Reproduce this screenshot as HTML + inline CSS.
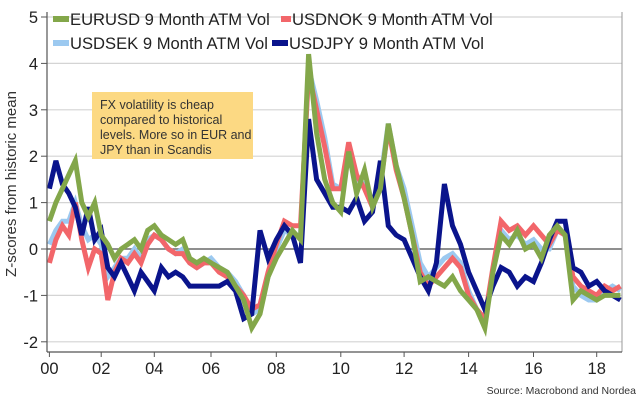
<!DOCTYPE html>
<html><head><meta charset="utf-8"><style>
html,body{margin:0;padding:0;background:#fff;}
svg{display:block;font-family:"Liberation Sans",sans-serif;}
</style></head><body>
<svg id="chart" width="640" height="403" viewBox="0 0 640 403">
<g id="grid"></g>
<g id="series"></g>
<g id="axes"></g>
<rect x="92" y="92" width="161" height="67" fill="#FCD983"/>
<text font-size="12.5" fill="#333">
<tspan x="100" y="109">FX volatility is cheap</tspan>
<tspan x="100" y="124">compared to historical</tspan>
<tspan x="100" y="139">levels. More so in EUR and</tspan>
<tspan x="100" y="154">JPY than in Scandis</tspan>
</text>
<g font-size="16.6" fill="#222">
<g><rect x="53" y="16" width="16" height="6" fill="#83A74A"/><text x="70" y="25">EURUSD 9 Month ATM Vol</text></g>
<g><rect x="281" y="16" width="10" height="6" fill="#F2666A"/><text x="292" y="25">USDNOK 9 Month ATM Vol</text></g>
<g><rect x="53" y="40" width="16" height="6" fill="#9CC9F0"/><text x="70" y="49">USDSEK 9 Month ATM Vol</text></g>
<g><rect x="272" y="40" width="16" height="6" fill="#0A148C"/><text x="289" y="49">USDJPY 9 Month ATM Vol</text></g>
</g>
<text font-size="15" fill="#333" transform="translate(16,184) rotate(-90)" text-anchor="middle">Z-scores from historic mean</text>
<text x="636" y="394" font-size="10.5" fill="#333" text-anchor="end">Source: Macrobond and Nordea</text>
</svg>
<script>
const tickYears = [2000,2002,2004,2006,2008,2010,2012,2014,2016,2018];
const tickLabels = ["00","02","04","06","08","10","12","14","16","18"];
const yTicks = [5,4,3,2,1,0,-1,-2];
const startYear = 2000;
const stepYear = 0.25;
const eurusd = [0.6,1.0,1.3,1.6, 1.9,1.0,0.7,1.0, 0.3,0.1,-0.2,0.0, 0.1,0.2,0.0,0.4, 0.5,0.3,0.2,0.1, 0.2,-0.2,-0.3,-0.2, -0.3,-0.4,-0.5,-0.8, -1.1,-1.7,-1.4,-0.6, -0.2,0.1,0.4,0.2, 4.2,2.5,1.5,1.0, 0.8,2.1,1.2,1.7, 0.9,1.3,2.7,1.8, 1.1,0.3,-0.7,-0.6, -0.7,-0.8,-0.6,-0.9, -1.1,-1.3,-1.7,-0.5, 0.3,0.1,0.4,0.0, 0.1,-0.2,0.3,0.5, 0.3,-1.1,-0.9,-1.0, -1.1,-1.0,-1.0,-1.0];
const usdnok = [-0.3,0.2,0.5,0.3, 1.0,0.2,-0.4,0.0, -0.1,-1.1,-0.5,-0.2, -0.3,-0.1,-0.3,0.1, 0.3,0.2,0.0,-0.1, -0.1,-0.3,-0.4,-0.3, -0.3,-0.5,-0.6,-0.8, -1.0,-1.3,-1.2,-0.5, 0.1,0.6,0.5,0.5, 3.8,3.0,2.2,1.3, 1.3,2.3,1.6,1.3, 0.9,1.4,2.6,1.7, 1.1,0.3,-0.5,-0.8, -0.6,-0.4,-0.2,-0.4, -1.0,-1.3,-1.5,-0.4, 0.6,0.4,0.5,0.3, 0.5,0.3,0.1,0.4, 0.3,-0.6,-0.8,-0.9, -1.0,-0.8,-0.9,-0.8];
const usdsek = [0.1,0.4,0.6,0.6, 1.0,0.5,0.2,0.3, 0.1,-0.6,-0.4,-0.2, -0.2,0.0,-0.2,0.2, 0.3,0.2,0.0,-0.1, 0.0,-0.3,-0.4,-0.3, -0.2,-0.4,-0.5,-0.7, -1.0,-1.4,-1.3,-0.6, 0.0,0.4,0.3,0.3, 3.9,3.2,2.4,1.4, 1.3,2.2,1.5,1.4, 1.0,1.5,2.7,1.8, 1.3,0.5,-0.3,-0.6, -0.4,-0.2,-0.1,-0.3, -0.9,-1.3,-1.5,-0.5, 0.4,0.2,0.3,0.1, 0.2,0.0,0.0,0.4, 0.3,-0.8,-1.0,-1.1, -1.1,-0.9,-0.8,-0.9];
const usdjpy = [1.3,1.9,1.4,1.2, 0.9,0.3,0.9,0.2, 0.4,-0.4,-0.6,-0.3, -0.6,-0.9,-0.5,-0.7, -0.9,-0.4,-0.6,-0.5, -0.6,-0.8,-0.8,-0.8, -0.8,-0.8,-0.7,-0.9, -1.5,-1.4,0.4,-0.2, 0.2,0.5,0.3,-0.3, 2.8,1.5,1.2,0.9, 0.9,0.8,1.1,0.6, 0.8,1.9,0.5,0.3, 0.2,-0.2,-0.6,-0.9, -0.3,1.4,0.5,0.1, -0.5,-0.9,-1.3,-0.8, -0.4,-0.5,-0.8,-0.6, -0.7,-0.3,0.2,0.6, 0.6,-0.4,-0.5,-0.8, -0.7,-0.9,-1.0,-1.1];

const tickPx = [49.4,101.2,154.3,211,276.3,340.8,404.1,468.6,533.5,596.7];
function xScale(yr){
  let i = 0;
  while(i < tickYears.length-2 && yr > tickYears[i+1]) i++;
  const t = (yr - tickYears[i])/(tickYears[i+1]-tickYears[i]);
  return tickPx[i] + t*(tickPx[i+1]-tickPx[i]);
}
function yScale(v){ return 249 - v*46.4; }
const NS = "http://www.w3.org/2000/svg";
function mk(tag, attrs, parent){
  const e = document.createElementNS(NS, tag);
  for(const k in attrs) e.setAttribute(k, attrs[k]);
  parent.appendChild(e); return e;
}
const grid = document.getElementById('grid');
const axes = document.getElementById('axes');
const series = document.getElementById('series');
const L = 47, R = 622, B = yScale(-2.22);
yTicks.forEach(v=>{
  const y = yScale(v);
  const g = mk('line',{x1:L,x2:R,y1:y,y2:y,stroke:v===0?'#6a6a6a':'#d4d4d4','stroke-width':v===0?1.5:1.2},grid);
  
  
  const tk = mk('line',{x1:L-6,x2:L,y1:y,y2:y,stroke:'#555','stroke-width':1},axes);
  
  
  const t = mk('text',{x:38,y:y+6,'font-size':16.5,fill:'#222','text-anchor':'end'},axes);
  t.textContent = v;
  
  
});
const la = mk('line',{x1:L,x2:L,y1:12,y2:B,stroke:'#555','stroke-width':1.2},axes);


const ra = mk('line',{x1:R,x2:R,y1:12,y2:B,stroke:'#999','stroke-width':1},axes);


const ba = mk('line',{x1:L,x2:R,y1:B,y2:B,stroke:'#555','stroke-width':1.2},axes);


tickYears.forEach((yr,i)=>{
  const x = xScale(yr);
  const tk = mk('line',{x1:x,x2:x,y1:B,y2:B+5,stroke:'#555','stroke-width':1},axes);
  
  
  const t = mk('text',{x:x,y:374,'font-size':16.5,fill:'#222','text-anchor':'middle'},axes);
  t.textContent = tickLabels[i];
  
  
});
function draw(arr, color, name){
  const pts = arr.map((v,i)=> xScale(startYear + i*stepYear).toFixed(1)+','+yScale(v).toFixed(1)).join(' ');
  const p = mk('polyline',{points:pts,fill:'none',stroke:color,'stroke-width':5,'stroke-linejoin':'miter'},series);
  
  
}
draw(usdsek,'#9CC9F0','usdsek-line');
draw(usdnok,'#F2666A','usdnok-line');
draw(usdjpy,'#0A148C','usdjpy-line');
draw(eurusd,'#83A74A','eurusd-line');
</script>
</body></html>
